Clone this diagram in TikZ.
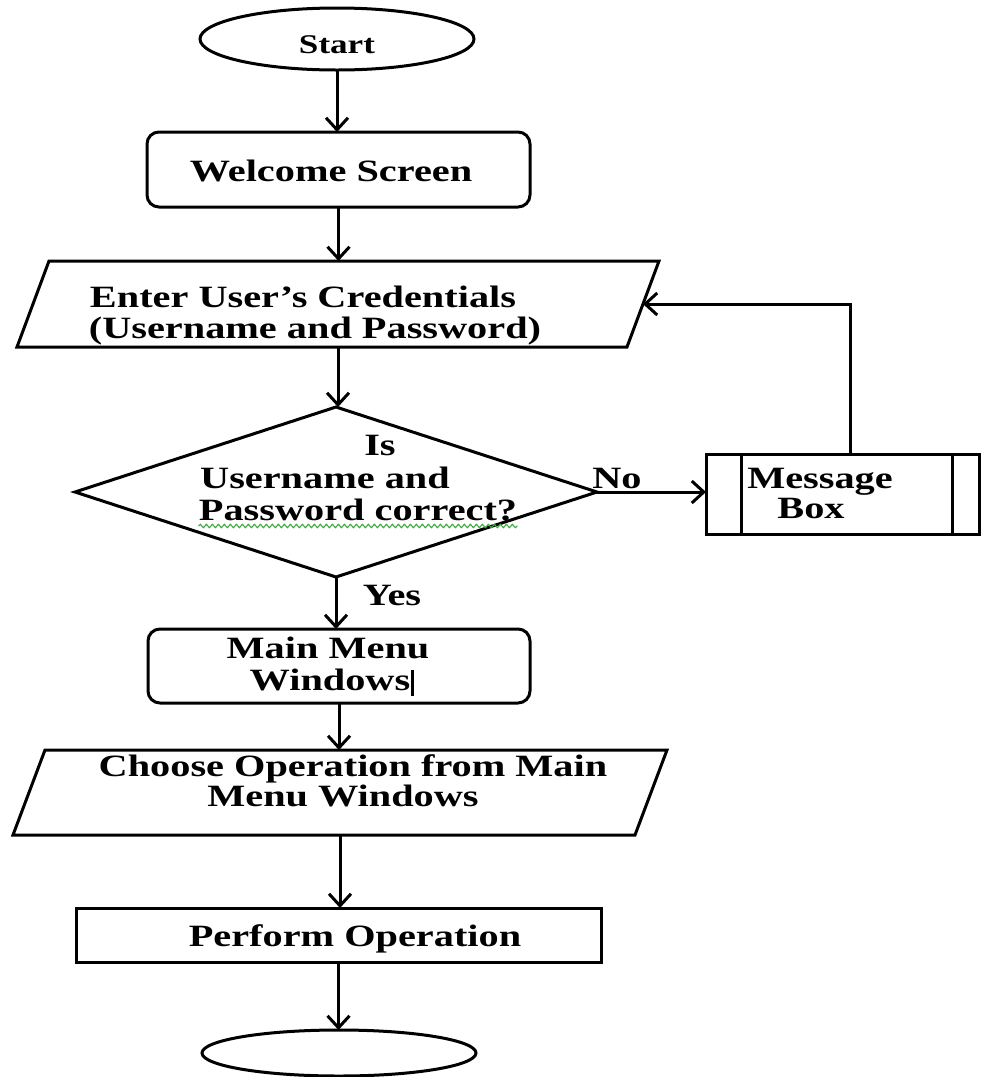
\documentclass[tikz,border=0pt]{standalone}
\usepackage{graphicx}
\usepackage{fontspec}
\setmainfont{Liberation Serif}
\usetikzlibrary{shapes.geometric,arrows.meta,decorations.pathmorphing}
\newcommand{\wtxt}[1]{\scalebox{1.3}[1]{#1}}
\newcommand{\slantbox}[1]{%
  \draw[line width=1.5pt, line join=miter]
    ([xshift=8pt]#1.north west) -- ([xshift=8pt]#1.north east) --
    ([xshift=-8pt]#1.south east) -- ([xshift=-8pt]#1.south west) -- cycle;}
\definecolor{spellgreen}{RGB}{70,170,70}
\begin{document}
\begin{tikzpicture}[x=0.5pt,y=-0.5pt,
  flow/.style={draw, line width=1.5pt, inner sep=0pt, outer sep=0pt},
  roundbox/.style={flow, rounded corners=6pt},
  iobody/.style={inner sep=0pt, outer sep=0pt},
  lbl/.style={font=\bfseries\fontsize{15.5}{18}\selectfont, inner sep=0pt, anchor=base},
  conn/.style={line width=1.5pt, -{Straight Barb[length=6pt,width=11pt]}}]
\useasboundingbox (0,0) rectangle (982,1077);

% shapes
\node[flow, ellipse, minimum width=137pt, minimum height=31pt] (start) at (337,39) {};
\node[roundbox, minimum width=191.5pt, minimum height=37.5pt] (welcome) at (338.5,169.5) {};
\node[iobody, minimum width=305pt, minimum height=43pt] (cred) at (338,304) {};
\slantbox{cred}
\node[flow, diamond, minimum width=261pt, minimum height=85pt] (check) at (336,492) {};
\node[flow, minimum width=136.5pt, minimum height=40pt] (msg) at (842.5,494) {};
\draw[line width=1.5pt] ([xshift=17.5pt]msg.north west) -- ([xshift=17.5pt]msg.south west);
\draw[line width=1.5pt] ([xshift=-13.5pt]msg.north east) -- ([xshift=-13.5pt]msg.south east);
\node[roundbox, minimum width=191pt, minimum height=37pt] (menu) at (339,666) {};
\node[iobody, minimum width=311pt, minimum height=42.5pt] (choose) at (340,792.5) {};
\slantbox{choose}
\node[flow, minimum width=262.5pt, minimum height=27pt] (perform) at (338.5,935) {};
\node[flow, ellipse, minimum width=137pt, minimum height=23pt] (stop) at (339,1053) {};

% texts
\node[lbl, font=\bfseries\fontsize{13.5}{16}\selectfont] (tstart) at (337,53) {\wtxt{Start}};
\node[lbl] (twelcome) at (331,181) {\wtxt{Welcome Screen}};
\node[lbl] (tcred1) at (303,307) {\wtxt{Enter User’s Credentials}};
\node[lbl] (tcred2) at (315,338) {\wtxt{(Username and Password)}};
\node[lbl] (tis) at (380,455) {\wtxt{Is}};
\node[lbl] (tuser) at (325,488) {\wtxt{Username and}};
\node[lbl] (tpass) at (358,520) {\wtxt{Password correct?}};
\node[lbl] (tno) at (617,488) {\wtxt{No}};
\node[lbl] (tmsg1) at (820,488) {\wtxt{Message}};
\node[lbl] (tmsg2) at (811,518) {\wtxt{Box}};
\node[lbl] (tyes) at (392,605) {\wtxt{Yes}};
\node[lbl] (tmenu1) at (328,658) {\wtxt{Main Menu}};
\node[lbl] (tmenu2) at (330,690) {\wtxt{Windows}};
\node[lbl] (tchoose1) at (353,776) {\wtxt{Choose Operation from Main}};
\node[lbl] (tchoose2) at (343,806) {\wtxt{Menu Windows}};
\node[lbl] (tperform) at (355,946) {\wtxt{Perform Operation}};

% spell-check underline and text cursor
\draw[spellgreen, line width=0.6pt, decorate,
  decoration={snake, segment length=3pt, amplitude=0.8pt}]
  ([yshift=-3pt]tpass.base west) -- ([yshift=-3pt]tpass.base east);
\draw[line width=1.5pt] ([xshift=1pt,yshift=-3pt]tmenu2.base east) -- ([xshift=1pt,yshift=10pt]tmenu2.base east);

% connectors
\draw[conn] (start.south) -- (start.south |- welcome.north);
\draw[conn] (welcome.south) -- (welcome.south |- cred.north);
\draw[conn] (cred.south) -- (cred.south |- check.north);
\draw[conn] (check.east) -- (check.east -| msg.west);
\draw[conn] ([xshift=4pt]msg.north) |- (cred.east);
\draw[conn] (check.south) -- (check.south |- menu.north);
\draw[conn] (menu.south) -- (menu.south |- choose.north);
\draw[conn] (choose.south) -- (choose.south |- perform.north);
\draw[conn] (perform.south) -- (perform.south |- stop.north);
\end{tikzpicture}
\end{document}
